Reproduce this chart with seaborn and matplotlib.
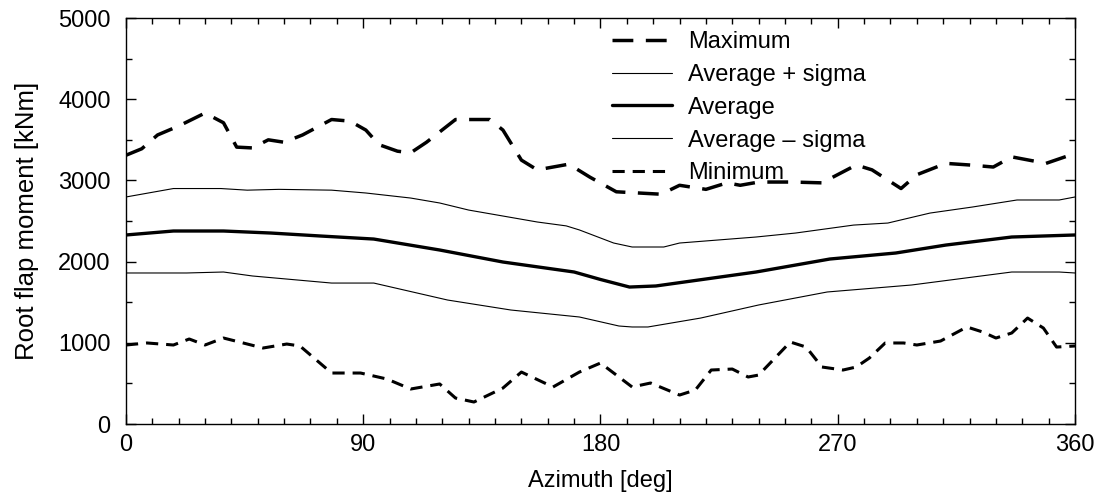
import pandas as pd
import matplotlib
matplotlib.use("Agg")
import matplotlib.pyplot as plt
import seaborn as sns
from matplotlib.ticker import MultipleLocator

# Datos (azimut en grados, momento en kNm)
max_az = [0, 6, 12, 20, 30, 37, 42, 48, 54, 60, 67, 78, 85, 91, 96, 103, 108, 114, 125, 138, 143,
          150, 156, 168, 176, 186, 203, 210, 220, 228, 233, 240, 253, 264, 277, 283, 294, 300,
          311, 320, 329, 336, 349, 358, 360]
max_val = [3310, 3390, 3560, 3670, 3830, 3710, 3410, 3400, 3500, 3470, 3560, 3750, 3730, 3620,
           3440, 3360, 3340, 3470, 3750, 3750, 3620, 3250, 3130, 3200, 3040, 2860, 2830, 2940,
           2890, 2970, 2940, 2980, 2980, 2970, 3190, 3130, 2900, 3070, 3210, 3190, 3165, 3290,
           3210, 3310, 3300]

sup_az = [0, 18, 36, 46, 58, 78, 91, 108, 119, 130, 156, 167, 172, 185, 192, 204, 210, 239,
          254, 276, 289, 305, 321, 338, 354, 360]
sup_val = [2796, 2900, 2900, 2880, 2890, 2880, 2845, 2783, 2722, 2635, 2488, 2440, 2390, 2229,
           2180, 2180, 2229, 2303, 2352, 2450, 2475, 2598, 2672, 2759, 2759, 2796]

avg_az = [0, 18, 37, 55, 74, 94, 119, 143, 170, 180, 191, 201, 239, 267, 292, 311, 336, 360]
avg_val = [2328, 2377, 2377, 2352, 2315, 2278, 2143, 1995, 1872, 1780, 1687, 1700, 1872, 2032,
           2106, 2204, 2303, 2328]

inf_az = [0, 23, 37, 48, 78, 94, 122, 146, 172, 187, 192, 198, 218, 240, 266, 298, 336, 354, 360]
inf_val = [1860, 1860, 1872, 1823, 1736, 1736, 1527, 1404, 1318, 1207, 1195, 1195, 1305, 1466,
           1626, 1712, 1872, 1872, 1860]

min_az = [0, 8, 18, 24, 30, 37, 43, 52, 61, 66, 78, 89, 99, 108, 119, 125, 132, 143, 150, 162,
          172, 180, 192, 199, 210, 216, 222, 230, 236, 240, 252, 258, 264, 272, 277, 282, 288,
          295, 300, 309, 319, 325, 330, 336, 342, 348, 353, 360]
min_val = [973, 998, 973, 1047, 973, 1059, 1010, 936, 985, 961, 628, 628, 554, 431, 493, 320,
           271, 443, 640, 456, 640, 751, 456, 505, 357, 419, 665, 677, 579, 603, 1010, 948, 702,
           665, 702, 813, 998, 998, 973, 1022, 1195, 1133, 1059, 1121, 1305, 1182, 948, 961]

series = [
    ("Maximum", max_az, max_val, 2.5, (6, 3.6)),
    ("Average + sigma", sup_az, sup_val, 0.8, None),
    ("Average", avg_az, avg_val, 2.4, None),
    ("Average \u2013 sigma", inf_az, inf_val, 0.8, None),
    ("Minimum", min_az, min_val, 2.2, (4, 2.6)),
]

sns.set_theme(style="ticks")
plt.rcParams["font.family"] = ["Liberation Sans", "DejaVu Sans"]
plt.rcParams["text.color"] = "black"
plt.rcParams["axes.labelcolor"] = "black"
plt.rcParams["xtick.color"] = "black"
plt.rcParams["ytick.color"] = "black"

fig = plt.figure(figsize=(11.01, 4.95), dpi=100)
ax = fig.add_axes([0.1144, 0.1434, 0.862, 0.8202])

for nombre, az, val, lw, dash in series:
    df = pd.DataFrame({"Azimut": az, "Momento": val})
    sns.lineplot(data=df, x="Azimut", y="Momento", color="black", linewidth=lw,
                 label=nombre, ax=ax, sort=False)
    if dash is not None:
        ax.lines[-1].set_dashes(dash)

ax.set_xlim(0, 360)
ax.set_ylim(0, 5000)
ax.xaxis.set_major_locator(MultipleLocator(90))
ax.xaxis.set_minor_locator(MultipleLocator(10))
ax.yaxis.set_major_locator(MultipleLocator(1000))
ax.yaxis.set_minor_locator(MultipleLocator(500))
ax.tick_params(which="both", direction="in", top=True, right=True, labelsize=17,
               color="black", width=1)
ax.tick_params(which="major", length=7)
ax.tick_params(which="minor", length=4)
ax.tick_params(axis="x", which="major", pad=7)
ax.tick_params(axis="y", which="major", pad=11)
for s in ax.spines.values():
    s.set_color("black")
    s.set_linewidth(1)

ax.set_xlabel("Azimuth [deg]", fontsize=17, labelpad=10)
ax.set_ylabel("Root flap moment [kNm]", fontsize=18.5, labelpad=14)

ax.legend(loc="upper left", bbox_to_anchor=(0.512, 0.968), frameon=False, fontsize=17,
          handlelength=2.55, handletextpad=0.68, labelspacing=0.46, borderaxespad=0,
          borderpad=0)

plt.savefig("out.png", dpi=100)
